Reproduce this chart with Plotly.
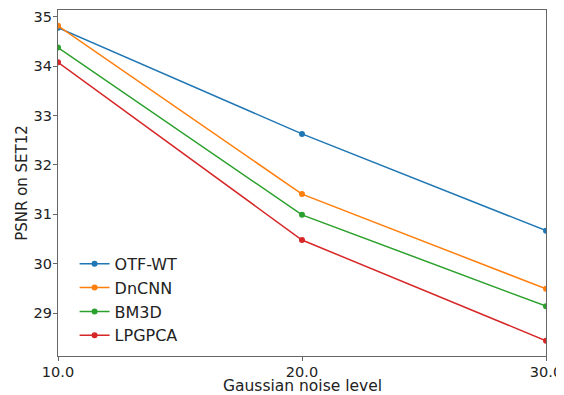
import plotly.graph_objects as go

noise_levels = [10, 20, 30]
otf_wt = [34.78, 32.63, 30.67]
dncnn = [34.82, 31.41, 29.49]
bm3d = [34.38, 30.99, 29.14]
lpgpca = [34.08, 30.48, 28.44]

series = [
    ("OTF-WT", otf_wt, "#1f77b4"),
    ("DnCNN", dncnn, "#ff7f0e"),
    ("BM3D", bm3d, "#2ca02c"),
    ("LPGPCA", lpgpca, "#d62728"),
]

x_label = "Gaussian noise level"
y_label = "PSNR on SET12"

FONT = "DejaVu Sans"

fig = go.Figure()
for name, vals, color in series:
    fig.add_trace(go.Scatter(
        x=noise_levels, y=vals, name=name, mode="lines+markers",
        line=dict(color=color, width=1.5),
        marker=dict(color=color, size=6),
    ))

axis_common = dict(
    showline=True, linecolor="#666666", linewidth=1.2, mirror=True,
    ticks="outside", ticklen=4, tickwidth=1, tickcolor="#666666",
    showgrid=False, zeroline=False, automargin=False,
    ticklabelstandoff=-2,
    tickfont=dict(family=FONT, size=14.5, color="#222222"),
)

# page body has an 8px margin, so the figure is sized to fit the window
fig.update_layout(
    width=556, height=387,
    margin=dict(l=50, r=18, t=2, b=39),
    plot_bgcolor="white", paper_bgcolor="white",
    font=dict(family=FONT, size=15, color="#222222"),
    xaxis=dict(range=[10, 30], tickvals=noise_levels, tickformat=".1f",
               **axis_common),
    yaxis=dict(range=[28.13, 35.14], tickvals=[29, 30, 31, 32, 33, 34, 35],
               title=dict(text=y_label, standoff=2,
                          font=dict(family=FONT, size=15, color="#222222")),
               **axis_common),
    legend=dict(x=0.034, y=0.009, xanchor="left", yanchor="bottom",
                bgcolor="rgba(0,0,0,0)", font=dict(family=FONT, size=16),
                tracegroupgap=0, itemwidth=30),
    showlegend=True,
    annotations=[dict(
        text=x_label, xref="paper", yref="paper", x=0.5, y=0,
        xanchor="center", yanchor="middle", yshift=-30, showarrow=False,
        borderpad=0,
        font=dict(family=FONT, size=15.5, color="#222222"),
    )],
)

fig.write_html("out.html")
